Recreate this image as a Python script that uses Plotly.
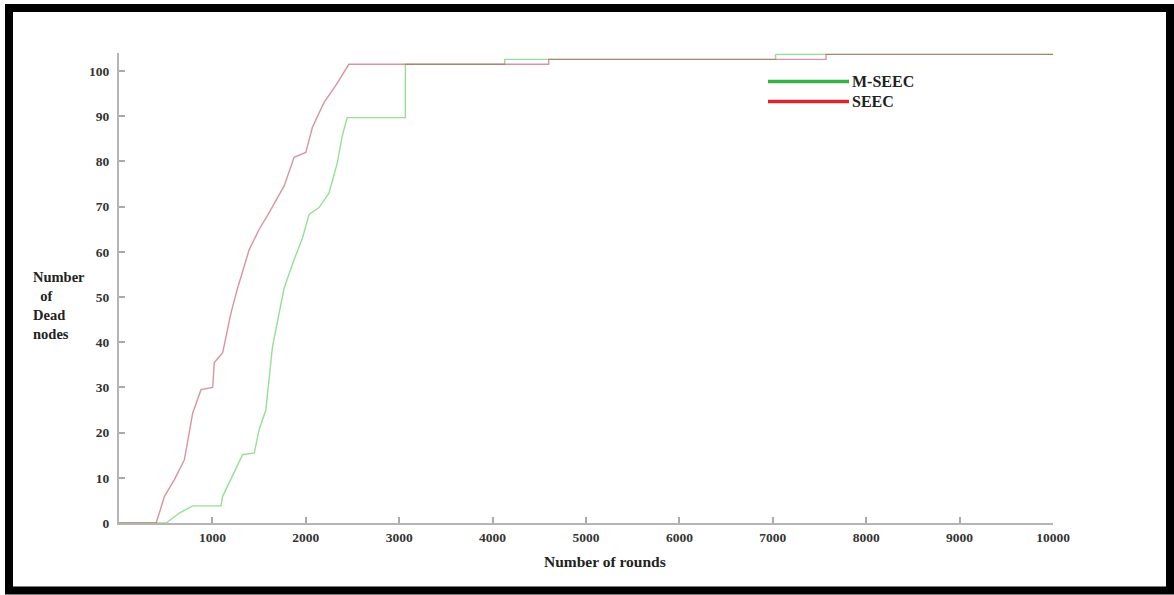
import plotly.graph_objects as go

# ---- data ----
seec_rounds = [0, 398, 487, 593, 700, 789, 878, 1003, 1020, 1110, 1199, 1270, 1394, 1501,
               1608, 1768, 1875, 2000, 2070, 2194, 2318, 2407, 2461, 4600, 4600, 7570, 7570, 10000]
seec_dead = [0, 0, 5.9, 9.6, 14, 24.3, 29.5, 30, 35.5, 37.7, 46.5, 52, 60.5, 65,
             68.7, 74.6, 80.9, 82, 87.5, 93, 96.7, 99.7, 101.5, 101.5, 102.6, 102.6, 103.7, 103.7]

mseec_rounds = [0, 505, 647, 789, 1092, 1110, 1323, 1448, 1501, 1572, 1643, 1768, 1875, 1964,
                2035, 2141, 2248, 2337, 2390, 2443, 3066, 3066, 4130, 4130, 7030, 7030, 10000]
mseec_dead = [0, 0, 2.2, 3.8, 3.8, 5.9, 15.1, 15.5, 20.7, 25, 39, 52, 58.3, 63,
              68.3, 69.8, 73, 79.7, 85.6, 89.7, 89.7, 101.5, 101.5, 102.6, 102.6, 103.7, 103.7]

x_ticks = [1000, 2000, 3000, 4000, 5000, 6000, 7000, 8000, 9000, 10000]
y_ticks = [0, 10, 20, 30, 40, 50, 60, 70, 80, 90, 100]
series_names = ["M-SEEC", "SEEC"]
series_colors = ["#35b04a", "#d8262e"]

W, H = 1174, 595
ML, MR, MT, MB = 119, 121, 53, 72
PW, PH = W - ML - MR, H - MT - MB


def px(x):
    return (x - ML) / PW


def py(y):
    return (H - MB - y) / PH


SERIF = "Liberation Serif"

fig = go.Figure()
fig.add_trace(go.Scatter(x=mseec_rounds, y=mseec_dead, mode="lines", name=series_names[0],
                         line=dict(color="rgba(80,200,80,0.6)", width=1.4), cliponaxis=False))
fig.add_trace(go.Scatter(x=seec_rounds, y=seec_dead, mode="lines", name=series_names[1],
                         line=dict(color="rgba(185,60,85,0.55)", width=1.4), cliponaxis=False))

shapes = [
    # outer black frame
    dict(type="rect", xref="paper", yref="paper", x0=px(9), x1=px(1170), y0=py(590.5), y1=py(8),
         line=dict(color="black", width=8), fillcolor="rgba(0,0,0,0)", layer="above"),
]
annotations = [
    dict(text="<b>Number of rounds</b>", xref="paper", yref="paper", x=px(605), y=py(561),
         xanchor="center", yanchor="middle", showarrow=False,
         font=dict(family=SERIF, size=15.5, color="#222")),
    dict(text="<b>Number<br>\u00a0\u00a0of<br>Dead<br>nodes</b>", xref="paper", yref="paper",
         x=px(31), y=py(305), xanchor="left", yanchor="middle", align="left", showarrow=False,
         font=dict(family=SERIF, size=14.5, color="#222")),
]
# manual legend
leg_y = [81.5, 101.5]
for name, col, ly in zip(series_names, series_colors, leg_y):
    shapes.append(dict(type="line", xref="paper", yref="paper", x0=px(768), x1=px(849),
                       y0=py(ly), y1=py(ly), line=dict(color=col, width=3.5)))
    annotations.append(dict(text="<b>" + name + "</b>", xref="paper", yref="paper", x=px(850),
                            y=py(ly), xanchor="left", yanchor="middle", showarrow=False,
                            font=dict(family=SERIF, size=16, color="#222")))

tickfont = dict(family=SERIF, size=13.5, color="#333")
fig.update_layout(
    width=W, height=H,
    margin=dict(l=ML, r=MR, t=MT, b=MB, pad=0),
    paper_bgcolor="white", plot_bgcolor="white",
    showlegend=False,
    shapes=shapes, annotations=annotations,
    xaxis=dict(range=[0, 10000], tickvals=x_ticks, ticktext=["<b>%d</b>" % v for v in x_ticks],
               ticks="inside", ticklen=6, tickcolor="#aaa", tickwidth=1.5,
               showline=True, linecolor="#b5b5b5", linewidth=2, showgrid=False, zeroline=False,
               tickfont=tickfont, ticklabelstandoff=1),
    yaxis=dict(range=[0, 104], tickvals=y_ticks, ticktext=["<b>%d</b>" % v for v in y_ticks],
               ticks="inside", ticklen=6, tickcolor="#aaa", tickwidth=1.5,
               showline=True, linecolor="#b5b5b5", linewidth=2, showgrid=False, zeroline=False,
               tickfont=tickfont, ticklabelstandoff=5),
)

fig.write_html("out.html")
